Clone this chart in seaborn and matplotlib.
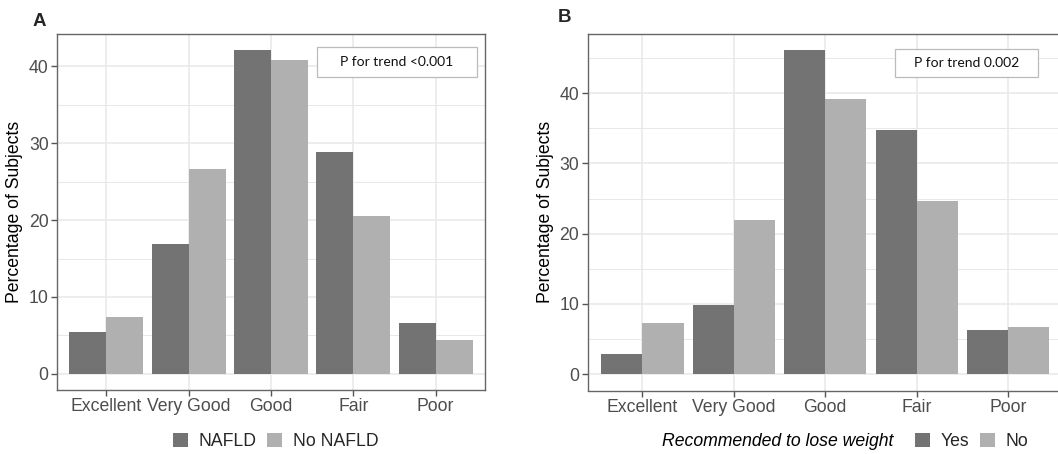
import pandas as pd
import matplotlib
matplotlib.use("Agg")
import matplotlib.pyplot as plt
import seaborn as sns
from matplotlib.patches import Rectangle
from matplotlib.ticker import MultipleLocator

# data
categories = ["Excellent", "Very Good", "Good", "Fair", "Poor"]
nafld = [5.4, 16.9, 42.1, 28.8, 6.6]
no_nafld = [7.45, 26.6, 40.8, 20.5, 4.4]
lose_yes = [2.85, 9.9, 46.1, 34.8, 6.3]
lose_no = [7.35, 22.0, 39.2, 24.6, 6.75]
groups_a = ["NAFLD", "No NAFLD"]
groups_b = ["Yes", "No"]
trend_a = "P for trend <0.001"
trend_b = "P for trend 0.002"

DARK = "#737373"
LIGHT = "#b0b0b0"
TICK_COL = "#4d4d4d"
GRID = "#e8e8e8"
FS = 12.7

sns.set_theme(style="white")
plt.rcParams["font.family"] = ["Liberation Sans", "DejaVu Sans"]


def long_frame(a, b, names):
    return pd.DataFrame({
        "cat": categories * 2,
        "val": list(a) + list(b),
        "grp": [names[0]] * len(categories) + [names[1]] * len(categories),
    })


def draw_panel(ax, df, names, trend, box):
    sns.barplot(data=df, x="cat", y="val", hue="grp", hue_order=names,
                order=categories, palette=[DARK, LIGHT], saturation=1,
                width=0.9, gap=0, ax=ax, legend=True, errorbar=None,
                edgecolor="none", zorder=3)
    handles, labels = ax.get_legend_handles_labels()
    ax.get_legend().remove()

    ymax = df["val"].max()
    ax.set_ylim(-ymax * 0.05, ymax * 1.05)
    ax.set_xlim(-0.6, len(categories) - 0.4)
    ax.yaxis.set_major_locator(MultipleLocator(10))
    ax.yaxis.set_minor_locator(MultipleLocator(5))
    ax.grid(True, which="major", axis="both", color=GRID, lw=1.1, zorder=0)
    ax.grid(True, which="minor", axis="y", color=GRID, lw=0.7, zorder=0)
    ax.set_axisbelow(True)
    ax.set_xlabel("")
    ax.set_ylabel("Percentage of Subjects", fontsize=FS, color="black", labelpad=4)
    ax.tick_params(axis="both", which="major", labelsize=FS, labelcolor=TICK_COL,
                   length=4, width=1, color="#555555", pad=2,
                   bottom=True, left=True)
    ax.tick_params(axis="y", which="minor", length=0)
    for sp in ax.spines.values():
        sp.set_color("#666666")
        sp.set_linewidth(1.0)

    # annotation box in axes fraction
    x0, y0, w, h = box
    ax.add_patch(Rectangle((x0, y0), w, h, transform=ax.transAxes,
                           facecolor="white", edgecolor="#bbbbbb", lw=0.9, zorder=5))
    ax.text(x0 + w / 2, y0 + h / 2, trend, transform=ax.transAxes,
            ha="center", va="center", fontsize=10, family=["Lato", "DejaVu Sans"],
            color="#111111", zorder=6)
    return handles, labels


fig = plt.figure(figsize=(10.58, 4.54), dpi=100)
W, H = 1058, 454
ax_a = fig.add_axes([57 / W, 1 - 390 / H, 428 / W, 356 / H])
ax_b = fig.add_axes([587.5 / W, 1 - 390.5 / H, 475.5 / W, 356.5 / H])

h_a, l_a = draw_panel(ax_a, long_frame(nafld, no_nafld, groups_a), groups_a, trend_a,
                      ((317 - 57) / 428, (390 - 77) / 356, 160 / 428, 30 / 356))
h_b, l_b = draw_panel(ax_b, long_frame(lose_yes, lose_no, groups_b), groups_b, trend_b,
                      ((895 - 587.5) / 475.5, (390.5 - 77.3) / 356.5, 143 / 475.5, 28 / 356.5))

leg_kw = dict(ncol=2, frameon=False, fontsize=FS, handlelength=0.85,
              handleheight=0.85, handletextpad=0.6, columnspacing=0.6,
              loc="center", borderaxespad=0, borderpad=0)
fig.legend(h_a, l_a, bbox_to_anchor=(275.5 / W, 1 - 441.5 / H), **leg_kw)
fig.legend(h_b, l_b, bbox_to_anchor=(972 / W, 1 - 441.5 / H), **leg_kw)
fig.text(893 / W, 1 - 441.5 / H, "Recommended to lose weight", ha="right", va="center",
         fontsize=FS, style="italic", color="black")

fig.text(33 / W, 1 - 21 / H, "A", fontsize=13.5, fontweight="bold", ha="left", va="center")
fig.text(558 / W, 1 - 17 / H, "B", fontsize=13.5, fontweight="bold", ha="left", va="center")

fig.savefig("out.png", dpi=100)
